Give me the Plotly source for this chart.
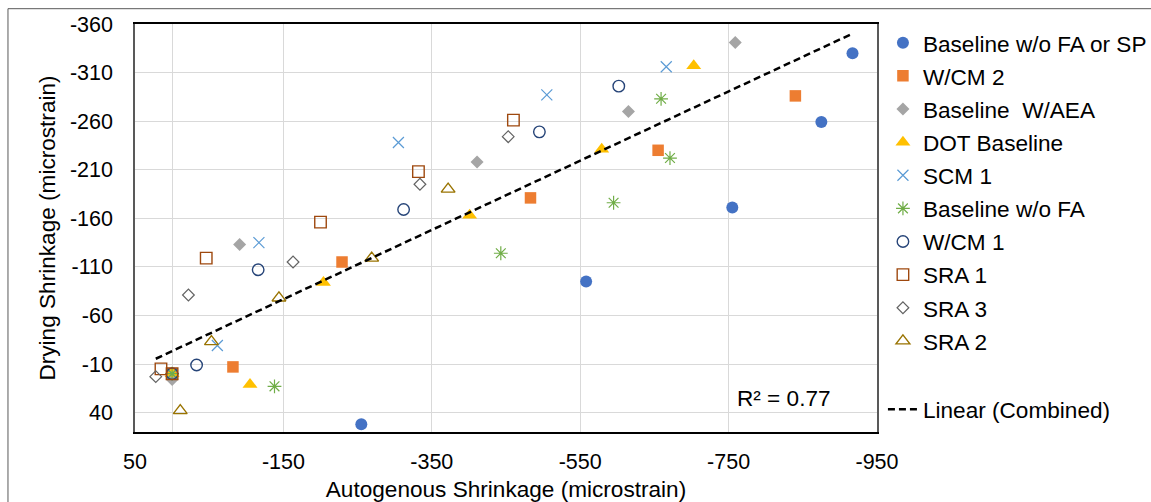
import numpy as np
import plotly.graph_objects as go

# ---- data (autogenous x, drying y), microstrain ----
baseline_no_fa_sp_x = [0, -255, -558, -755, -875, -917]
baseline_no_fa_sp_y = [0, 52, -95, -171, -259, -330]

wcm2_x = [0, -82, -229, -483, -655, -840]
wcm2_y = [0, -7, -115, -181, -230, -286]

baseline_aea_x = [0, -91, -411, -615, -759]
baseline_aea_y = [6, -133, -218, -270, -341]

dot_baseline_x = [0, -105, -204, -401, -579, -703]
dot_baseline_y = [0, 11, -94, -163, -231, -317]

scm1_x = [0, -61, -117, -305, -505, -666]
scm1_y = [0, -29, -135, -238, -287, -316]

baseline_no_fa_x = [0, -138, -443, -595, -671, -659]
baseline_no_fa_y = [0, 13, -124, -176, -222, -283]

wcm1_x = [0, -33, -116, -312, -495, -602]
wcm1_y = [0, -9, -107, -169, -249, -296]

sra1_x = [0, 15, -46, -200, -332, -460]
sra1_y = [0, -5, -119, -156, -208, -261]

sra3_x = [22, -22, -163, -334, -453]
sra3_y = [3, -81, -115, -195, -244]

sra2_x = [-11, -53, -144, -269, -372]
sra2_y = [38, -33, -78, -119, -190]

x_tick_vals = [50, -150, -350, -550, -750, -950]
y_tick_vals = [-360, -310, -260, -210, -160, -110, -60, -10, 40]
r2_label = "R² = 0.77"

series = [
    ("Baseline w/o FA or SP", baseline_no_fa_sp_x, baseline_no_fa_sp_y,
     dict(symbol="circle", size=12, color="#4472C4")),
    ("W/CM 2", wcm2_x, wcm2_y,
     dict(symbol="square", size=11.5, color="#ED7D31")),
    ("Baseline  W/AEA", baseline_aea_x, baseline_aea_y,
     dict(symbol="diamond", size=10, color="#A5A5A5")),
    ("DOT Baseline", dot_baseline_x, dot_baseline_y,
     dict(symbol="triangle-up", size=13, color="#FFC000")),
    ("SCM 1", scm1_x, scm1_y,
     dict(symbol="x-thin-open", size=11, color="#5B9BD5", line=dict(width=1.2, color="#5B9BD5"))),
    ("Baseline w/o FA", baseline_no_fa_x, baseline_no_fa_y,
     dict(symbol="asterisk-open", size=11.5, color="#70AD47", line=dict(width=1.2, color="#70AD47"))),
    ("W/CM 1", wcm1_x, wcm1_y,
     dict(symbol="circle-open", size=11.5, color="#264478", line=dict(width=1.4, color="#264478"))),
    ("SRA 1", sra1_x, sra1_y,
     dict(symbol="square-open", size=11.5, color="#9E480E", line=dict(width=1.4, color="#9E480E"))),
    ("SRA 3", sra3_x, sra3_y,
     dict(symbol="diamond-open", size=9, color="#636363", line=dict(width=1.2, color="#636363"))),
    ("SRA 2", sra2_x, sra2_y,
     dict(symbol="triangle-up-open", size=12, color="#997300", line=dict(width=1.4, color="#997300"))),
]

fig = go.Figure()
for i, (name, xs, ys, mk) in enumerate(series):
    fig.add_trace(go.Scatter(x=xs, y=ys, mode="markers", name=name, marker=mk,
                             legendgroup=f"g{i}", legend="legend"))

# combined linear trendline
all_x = np.concatenate([np.array(s[1], float) for s in series])
all_y = np.concatenate([np.array(s[2], float) for s in series])
slope, intercept = np.polyfit(all_x, all_y, 1)
tx = np.array([all_x.max(), all_x.min()])
fig.add_trace(go.Scatter(x=tx, y=slope * tx + intercept, mode="lines",
                         name="Linear (Combined)",
                         line=dict(color="black", width=2.5, dash="7px,4px"),
                         legend="legend2"))

font_family = "Liberation Sans, Arial, sans-serif"
fig.update_layout(
    width=1151, height=502,
    margin=dict(l=135, r=274, t=24, b=70, autoexpand=False),
    paper_bgcolor="white", plot_bgcolor="white",
    font=dict(family=font_family, size=22, color="black"),
    legend=dict(x=1.008, xanchor="left", y=1.006, yanchor="top", maxheight=1,
                font=dict(size=22.6), tracegroupgap=0.75, bgcolor="rgba(0,0,0,0)"),
    legend2=dict(x=1.008, xanchor="left", y=0.108, yanchor="top",
                 font=dict(size=22.6), bgcolor="rgba(0,0,0,0)"),
    xaxis=dict(range=[50, -950], tickvals=x_tick_vals,
               ticktext=[str(v) for v in x_tick_vals],
               showgrid=True, gridcolor="#D9D9D9", gridwidth=1.3,
               zeroline=True, zerolinecolor="#D9D9D9", zerolinewidth=1.3,
               showline=True, linecolor="black", linewidth=1.5, mirror=True,
               ticks="", ticklabelstandoff=9, automargin=False,
               tickfont=dict(size=21.5),
               title=dict(text="Autogenous Shrinkage (microstrain)", standoff=11,
                          font=dict(size=22.6))),
    yaxis=dict(range=[60, -360], tickvals=y_tick_vals,
               ticktext=[str(v) for v in y_tick_vals],
               showgrid=True, gridcolor="#D9D9D9", gridwidth=1.3,
               zeroline=False, automargin=False,
               showline=True, linecolor="#595959", linewidth=1.5, mirror=True,
               ticks="", ticklabelstandoff=16,
               tickfont=dict(size=21.5),
               title=dict(text="Drying Shrinkage (microstrain)", standoff=8,
                          font=dict(size=22.6))),
    annotations=[dict(text=r2_label, xref="paper", yref="paper",
                      x=0.8086, y=0.0816, xanchor="left", yanchor="middle",
                      showarrow=False, font=dict(size=22.6))],
    shapes=[dict(type="rect", xref="paper", yref="paper",
                 x0=-0.1712, x1=1.40, y0=-0.20, y1=1.0375,
                 line=dict(color="#595959", width=1), fillcolor="rgba(0,0,0,0)",
                 layer="below")],
)

fig.write_html("out.html")
